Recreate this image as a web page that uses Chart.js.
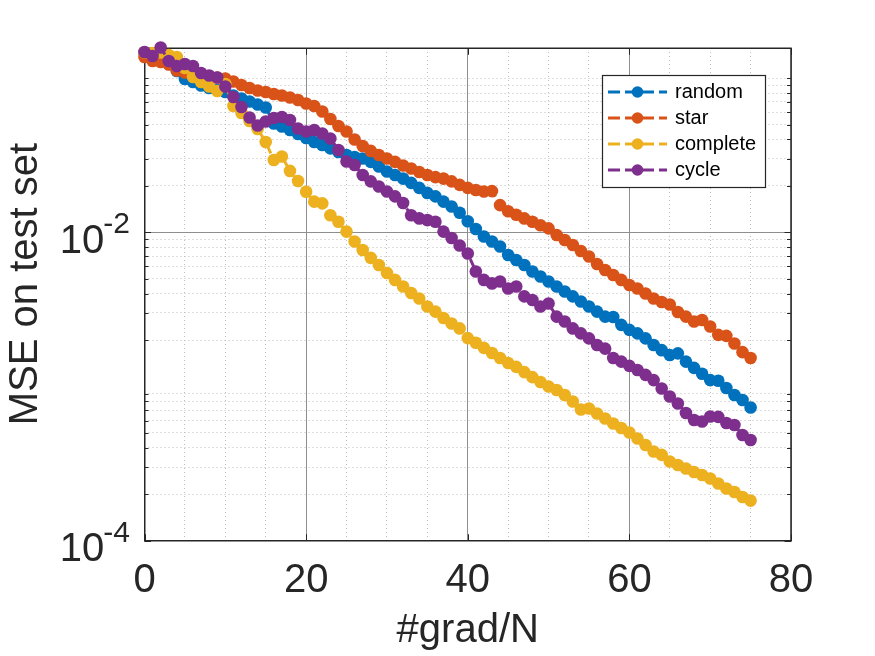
<!DOCTYPE html>
<html lang="en">
<head>
    <meta charset="UTF-8">
    <title>MSE on test set</title>
    <script src="https://cdn.jsdelivr.net/npm/chart.js"></script>
    <style>
        body { margin: 0; background: #fff; }
        #wrap { width: 875px; height: 656px; }
    </style>
</head>
<body>
<div id="wrap"><canvas id="mseChart" width="875" height="656"></canvas></div>
<script>
    // x values (#grad/N)
    const gradN = [0, 1, 2, 3, 4, 5, 6, 7, 8, 9, 10, 11, 12, 13, 14, 15, 16, 17, 18, 19,
        20, 21, 22, 23, 24, 25, 26, 27, 28, 29, 30, 31, 32, 33, 34, 35, 36, 37, 38, 39,
        40, 41, 42, 43, 44, 45, 46, 47, 48, 49, 50, 51, 52, 53, 54, 55, 56, 57, 58, 59,
        60, 61, 62, 63, 64, 65, 66, 67, 68, 69, 70, 71, 72, 73, 74, 75];

    // MSE per topology
    const mseRandom = [0.1466, 0.1391, 0.1310, 0.1234, 0.1112, 0.0987, 0.0943, 0.0895, 0.0863, 0.0837,
        0.0813, 0.0771, 0.0737, 0.0705, 0.0674, 0.0645, 0.0508, 0.0485, 0.0461, 0.0434,
        0.0409, 0.0385, 0.0368, 0.0350, 0.0332, 0.0317, 0.0308, 0.0301, 0.0286, 0.0267,
        0.0248, 0.0235, 0.0223, 0.0209, 0.0194, 0.0180, 0.0171, 0.0158, 0.0147, 0.0134,
        0.0118, 0.0105, 0.00939, 0.00871, 0.00809, 0.00713, 0.00661, 0.00614, 0.00557, 0.00517,
        0.00480, 0.00445, 0.00413, 0.00384, 0.00356, 0.00330, 0.00306, 0.00284, 0.00282, 0.00251,
        0.00233, 0.00221, 0.00205, 0.00186, 0.00172, 0.00160, 0.00164, 0.00145, 0.00132, 0.00121,
        0.00110, 0.00109, 0.000978, 0.000881, 0.000818, 0.000731];

    const mseStar = [0.1370, 0.1291, 0.1272, 0.1225, 0.1120, 0.1087, 0.1063, 0.1040, 0.1024, 0.1009,
        0.0994, 0.0951, 0.0902, 0.0863, 0.0831, 0.0813, 0.0789, 0.0771, 0.0748, 0.0721,
        0.0684, 0.0659, 0.0607, 0.0543, 0.0489, 0.0450, 0.0400, 0.0363, 0.0337, 0.0317,
        0.0301, 0.0286, 0.0271, 0.0259, 0.0246, 0.0235, 0.0228, 0.0223, 0.0214, 0.0203,
        0.0194, 0.0188, 0.0184, 0.0185, 0.0150, 0.0137, 0.0130, 0.0123, 0.0117, 0.0111,
        0.0106, 0.00960, 0.00892, 0.00827, 0.00756, 0.00697, 0.00623, 0.00569, 0.00529, 0.00491,
        0.00455, 0.00432, 0.00401, 0.00372, 0.00353, 0.00340, 0.00304, 0.00284, 0.00264, 0.00270,
        0.00245, 0.00216, 0.00213, 0.00190, 0.00167, 0.00153];

    const mseComplete = [0.1470, 0.1455, 0.1466, 0.1412, 0.1370, 0.1163, 0.1017, 0.0943, 0.0882, 0.0825,
        0.0916, 0.0659, 0.0594, 0.0527, 0.0468, 0.0385, 0.0294, 0.0310, 0.0250, 0.0215,
        0.0183, 0.0158, 0.0154, 0.0129, 0.0117, 0.0101, 0.00871, 0.00768, 0.00682, 0.00614,
        0.00545, 0.00491, 0.00445, 0.00404, 0.00372, 0.00330, 0.00306, 0.00278, 0.00256, 0.00238,
        0.00206, 0.00192, 0.00178, 0.00165, 0.00153, 0.00142, 0.00134, 0.00124, 0.00115, 0.00107,
        0.00100, 0.000949, 0.000881, 0.000799, 0.000709, 0.000720, 0.000668, 0.000620, 0.000576, 0.000538,
        0.000503, 0.000460, 0.000417, 0.000379, 0.000360, 0.000326, 0.000310, 0.000294, 0.000279, 0.000267,
        0.000253, 0.000235, 0.000218, 0.000207, 0.000192, 0.000182];

    const mseCycle = [0.1477, 0.1391, 0.1579, 0.1291, 0.1198, 0.1234, 0.1198, 0.1079, 0.1040, 0.1009,
        0.0882, 0.0754, 0.0650, 0.0555, 0.0493, 0.0523, 0.0551, 0.0559, 0.0535, 0.0471,
        0.0450, 0.0461, 0.0437, 0.0406, 0.0342, 0.0288, 0.0273, 0.0235, 0.0214, 0.0198,
        0.0184, 0.0171, 0.0155, 0.0129, 0.0123, 0.0120, 0.0117, 0.0101, 0.00918, 0.00821,
        0.00729, 0.00557, 0.00491, 0.00466, 0.00480, 0.00432, 0.00445, 0.00384, 0.00364, 0.00330,
        0.00345, 0.00284, 0.00264, 0.00238, 0.00221, 0.00205, 0.00186, 0.00176, 0.00153, 0.00145,
        0.00136, 0.00128, 0.00119, 0.00110, 0.000971, 0.000861, 0.000776, 0.000673, 0.000606, 0.000593,
        0.000639, 0.000635, 0.000580, 0.000563, 0.000485, 0.000450];

    const seriesNames = ['random', 'star', 'complete', 'cycle'];
    const seriesValues = [mseRandom, mseStar, mseComplete, mseCycle];
    const seriesColors = ['#0072BD', '#D95319', '#EDB120', '#7E2F8E'];

    // ticks and grid
    const xMajorTicks = [0, 20, 40, 60, 80];
    const xMinorTicks = [5, 10, 15, 25, 30, 35, 45, 50, 55, 65, 70, 75];
    const yMajorTicks = [1e-4, 1e-2];
    const yTickExponents = ['-4', '-2'];
    const yMinorTicks = [2e-4, 3e-4, 4e-4, 5e-4, 6e-4, 7e-4, 8e-4, 9e-4,
        2e-3, 3e-3, 4e-3, 5e-3, 6e-3, 7e-3, 8e-3, 9e-3,
        2e-2, 3e-2, 4e-2, 5e-2, 6e-2, 7e-2, 8e-2, 9e-2, 1e-1];

    const axisColor = '#262626';
    const majorGrid = '#8e8e8e';
    const minorGrid = '#bdbdbd';
    const fontFamily = "'Liberation Sans', Arial, Helvetica, sans-serif";
    const markerRadius = 6.3;

    const legendBox = { left: 602, top: 75, width: 163, height: 112, firstRow: 92, rowStep: 26,
        lineFrom: 608, lineTo: 667, textX: 675 };

    function setTicks(values) {
        return scale => { scale.ticks = values.map(v => ({ value: v })); };
    }

    const matlabFrame = {
        id: 'matlabFrame',
        beforeDatasetsDraw(chart) {
            const { ctx, chartArea: a, scales } = chart;
            ctx.save();
            ctx.strokeStyle = axisColor;
            ctx.lineWidth = 1;
            ctx.beginPath();
            xMajorTicks.forEach(v => {
                const px = Math.round(scales.x.getPixelForValue(v)) + 0.5;
                ctx.moveTo(px, a.bottom); ctx.lineTo(px, a.bottom - 6.5);
                ctx.moveTo(px, a.top); ctx.lineTo(px, a.top + 6.5);
            });
            yMajorTicks.concat(yMinorTicks).forEach(v => {
                const len = yMajorTicks.includes(v) ? 6.5 : 4;
                const py = Math.round(scales.y.getPixelForValue(v)) + 0.5;
                ctx.moveTo(a.left, py); ctx.lineTo(a.left + len, py);
                ctx.moveTo(a.right, py); ctx.lineTo(a.right - len, py);
            });
            ctx.stroke();
            // top and right edges of the box
            ctx.lineWidth = 1.5;
            ctx.beginPath();
            ctx.moveTo(a.left, a.top);
            ctx.lineTo(a.right, a.top);
            ctx.lineTo(a.right, a.bottom);
            ctx.stroke();
            ctx.restore();
        },
        afterDraw(chart) {
            const { ctx, scales } = chart;
            ctx.save();
            // y tick labels as 10^n
            ctx.fillStyle = axisColor;
            ctx.textAlign = 'right';
            ctx.textBaseline = 'alphabetic';
            yMajorTicks.forEach((v, i) => {
                const py = scales.y.getPixelForValue(v);
                ctx.font = '30px ' + fontFamily;
                ctx.fillText(yTickExponents[i], 130, py + 1);
                const expW = ctx.measureText(yTickExponents[i]).width;
                ctx.font = '40px ' + fontFamily;
                ctx.fillText('10', 130 - expW + 1, py + 20.7);
            });
            // y axis title
            ctx.save();
            ctx.translate(26, 284);
            ctx.rotate(-Math.PI / 2);
            ctx.textAlign = 'center';
            ctx.textBaseline = 'middle';
            ctx.font = '40px ' + fontFamily;
            ctx.fillText('MSE on test set', 0, 0);
            ctx.restore();

            // legend
            const L = legendBox;
            ctx.fillStyle = '#ffffff';
            ctx.fillRect(L.left, L.top, L.width, L.height);
            ctx.strokeStyle = axisColor;
            ctx.lineWidth = 1.2;
            ctx.strokeRect(L.left + 0.5, L.top + 0.5, L.width, L.height);
            ctx.font = '20px ' + fontFamily;
            ctx.textAlign = 'left';
            ctx.textBaseline = 'middle';
            seriesNames.forEach((name, i) => {
                const cy = L.firstRow + i * L.rowStep;
                ctx.strokeStyle = seriesColors[i];
                ctx.lineWidth = 3;
                ctx.setLineDash([12, 5]);
                ctx.beginPath();
                ctx.moveTo(L.lineFrom, cy);
                ctx.lineTo(L.lineTo, cy);
                ctx.stroke();
                ctx.setLineDash([]);
                ctx.fillStyle = seriesColors[i];
                ctx.beginPath();
                ctx.arc((L.lineFrom + L.lineTo) / 2, cy, 5.8, 0, Math.PI * 2);
                ctx.fill();
                ctx.fillStyle = '#000000';
                ctx.fillText(name, L.textX, cy);
            });
            ctx.restore();
        }
    };

    const datasets = seriesNames.map((name, i) => ({
        label: name,
        data: seriesValues[i].map((v, j) => ({ x: gradN[j], y: v })),
        borderColor: seriesColors[i],
        backgroundColor: seriesColors[i],
        pointBackgroundColor: seriesColors[i],
        borderWidth: 3,
        borderDash: [12, 5],
        pointRadius: markerRadius,
        pointHoverRadius: markerRadius,
        pointBorderWidth: 0,
        tension: 0,
        clip: false,
        order: seriesNames.length - 1 - i   // later series drawn on top, as in MATLAB
    }));

    const ctx = document.getElementById('mseChart').getContext('2d');
    const myChart = new Chart(ctx, {
        type: 'line',
        data: { datasets: datasets },
        options: {
            responsive: false,
            animation: false,
            devicePixelRatio: 1,
            layout: { padding: { top: 48.3, right: 84, left: 0, bottom: 0 } },
            plugins: { legend: { display: false }, tooltip: { enabled: false } },
            events: [],
            scales: {
                x: {
                    type: 'linear', position: 'bottom', min: 0, max: 80,
                    afterBuildTicks: setTicks(xMajorTicks),
                    afterFit: s => { s.height = 115.3; },
                    ticks: { color: axisColor, font: { family: fontFamily, size: 40 }, padding: 16,
                        maxRotation: 0, autoSkip: false },
                    grid: { color: majorGrid, lineWidth: 1, drawTicks: false },
                    border: { color: axisColor, width: 1.5 },
                    title: { display: true, text: '#grad/N', color: axisColor,
                        font: { family: fontFamily, size: 40 }, padding: { top: 0, bottom: 1 } }
                },
                x2: {
                    type: 'linear', position: 'top', min: 0, max: 80,
                    afterBuildTicks: setTicks(xMinorTicks),
                    afterFit: s => { s.height = 0; },
                    ticks: { display: false },
                    grid: { color: minorGrid, lineWidth: 1, drawTicks: false },
                    border: { display: false, dash: [1, 3] }
                },
                y: {
                    type: 'logarithmic', position: 'left', min: 1e-4, max: 0.156,
                    afterBuildTicks: setTicks(yMajorTicks),
                    afterFit: s => { s.width = 144.5; },
                    ticks: { display: false },
                    grid: { color: majorGrid, lineWidth: 1, drawTicks: false },
                    border: { color: axisColor, width: 1.5 }
                },
                y2: {
                    type: 'logarithmic', position: 'right', min: 1e-4, max: 0.156,
                    afterBuildTicks: setTicks(yMinorTicks),
                    afterFit: s => { s.width = 0; },
                    ticks: { display: false },
                    grid: { color: minorGrid, lineWidth: 1, drawTicks: false },
                    border: { display: false, dash: [1, 3] }
                }
            }
        },
        plugins: [matlabFrame]
    });
</script>
</body>
</html>
